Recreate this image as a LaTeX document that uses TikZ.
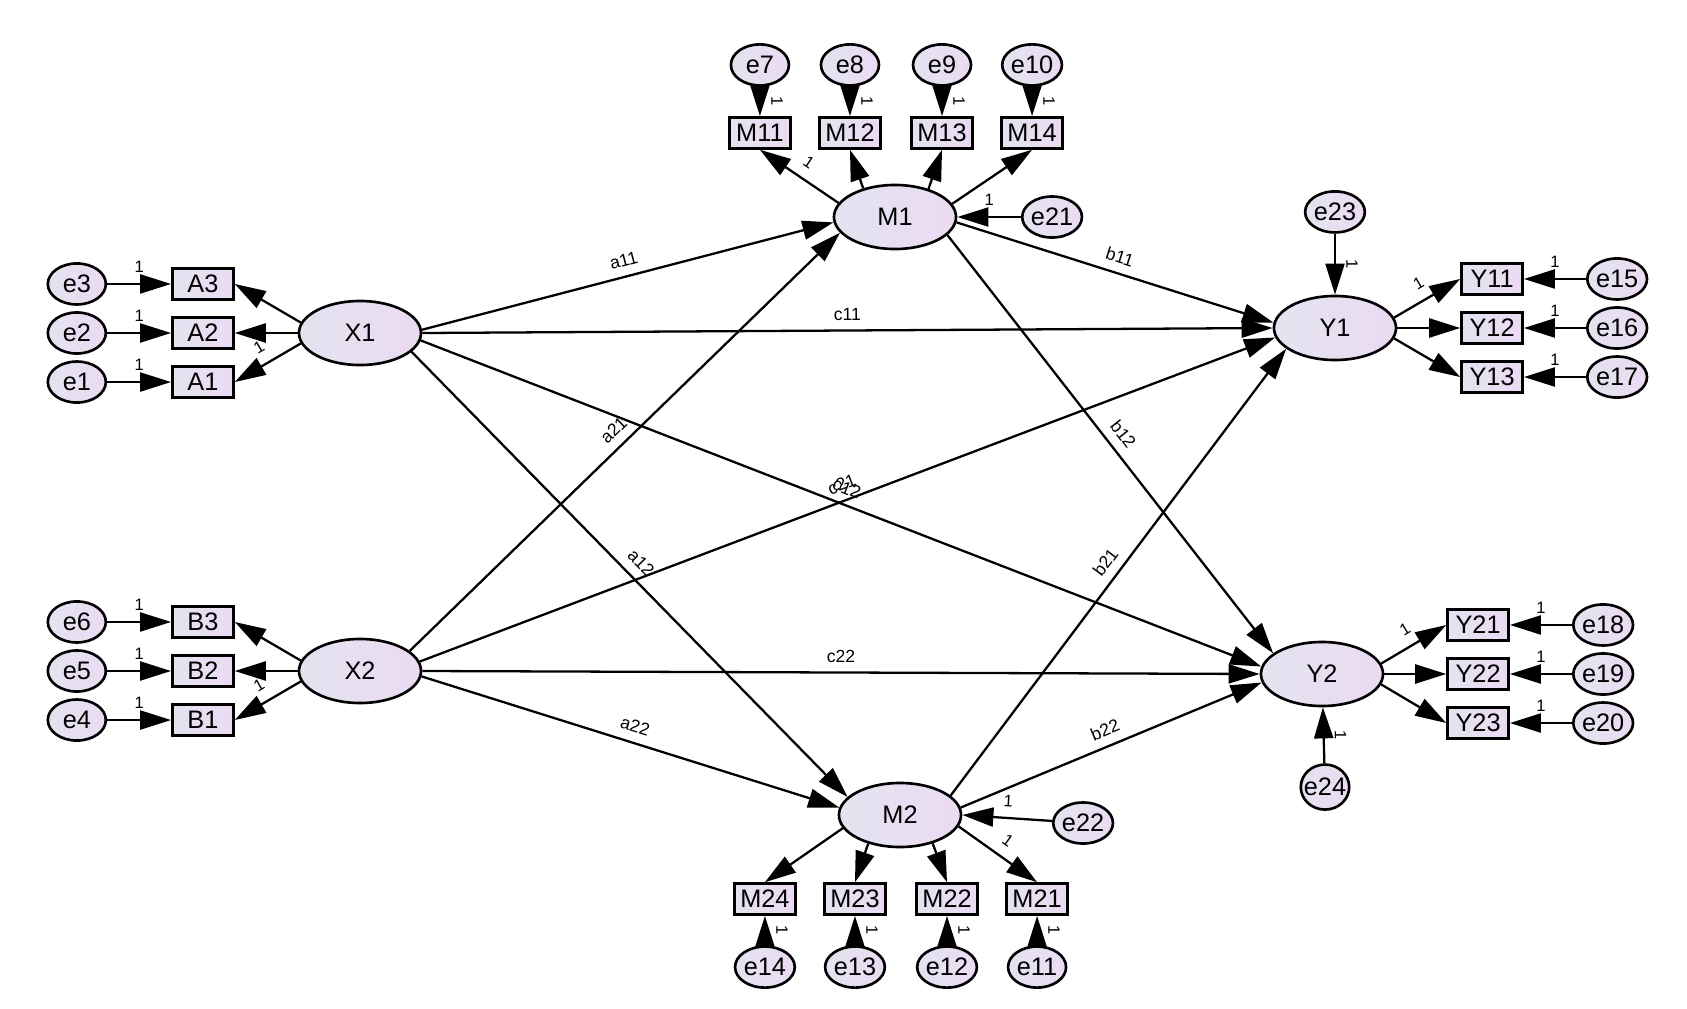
\documentclass[tikz,border=0pt]{standalone}
\usepackage{fontspec}
\setmainfont{Liberation Sans}
\usetikzlibrary{shapes.geometric, arrows.meta}
\definecolor{fillL}{RGB}{226,228,240}
\definecolor{fillR}{RGB}{236,218,242}
\tikzstyle{latent} = [ellipse, draw=black, line width=0.75pt, minimum width=1.22cm, minimum height=0.64cm, inner sep=0pt, left color=fillL, right color=fillR, font=\fontsize{7.2}{8}\selectfont]
\tikzstyle{err} = [ellipse, draw=black, line width=0.75pt, minimum width=0.58cm, minimum height=0.41cm, inner sep=0pt, left color=fillL, right color=fillR, font=\fontsize{7.2}{8}\selectfont]
\tikzstyle{obs} = [rectangle, draw=black, line width=0.75pt, minimum width=0.61cm, minimum height=0.31cm, inner sep=0pt, left color=fillL, right color=fillR, font=\fontsize{7.2}{8}\selectfont]
\tikzstyle{arrow} = [line width=0.65pt, -{Triangle[length=3.1mm, width=1.9mm]}]
\tikzstyle{lbl} = [font=\fontsize{5}{6}\selectfont, inner sep=0.5pt, midway, sloped, above=2pt]
\tikzstyle{one} = [font=\fontsize{4.7}{5}\selectfont, inner sep=0.5pt, midway, sloped, above=2.5pt]
\tikzstyle{onev} = [font=\fontsize{4.7}{5}\selectfont, inner sep=0.5pt, midway, xshift=0.17cm, rotate=-90]

\begin{document}
\begin{tikzpicture}[x=0.01cm, y=-0.01cm, node distance=0.49cm]
\path[use as bounding box, fill=white] (0,0) rectangle (1687,1009);

\node (X1) [latent] at (360,333) {X1};
\node (X2) [latent] at (360,671) {X2};
\node (M1) [latent] at (895,217) {M1};
\node (M2) [latent] at (900,815) {M2};
\node (Y1) [latent] at (1335,328) {Y1};
\node (Y2) [latent] at (1322,674) {Y2};

\node (A2) [obs, left of=X1, xshift=-1.08cm] {A2};
\node (A3) [obs, above of=A2] {A3};
\node (A1) [obs, below of=A2] {A1};
\node (e3) [err, left of=A3, xshift=-0.77cm] {e3};
\node (e2) [err, left of=A2, xshift=-0.77cm] {e2};
\node (e1) [err, left of=A1, xshift=-0.77cm] {e1};

\node (B2) [obs, left of=X2, xshift=-1.08cm] {B2};
\node (B3) [obs, above of=B2] {B3};
\node (B1) [obs, below of=B2] {B1};
\node (e6) [err, left of=B3, xshift=-0.77cm] {e6};
\node (e5) [err, left of=B2, xshift=-0.77cm] {e5};
\node (e4) [err, left of=B1, xshift=-0.77cm] {e4};

\node (M11) [obs, above of=M1, xshift=-1.35cm, yshift=0.35cm] {M11};
\node (M12) [obs, above of=M1, xshift=-0.45cm, yshift=0.35cm] {M12};
\node (M13) [obs, above of=M1, xshift=0.47cm, yshift=0.35cm] {M13};
\node (M14) [obs, above of=M1, xshift=1.37cm, yshift=0.35cm] {M14};
\node (e7) [err, above of=M11, yshift=0.19cm] {e7};
\node (e8) [err, above of=M12, yshift=0.19cm] {e8};
\node (e9) [err, above of=M13, yshift=0.19cm] {e9};
\node (e10) [err, above of=M14, yshift=0.19cm] {e10};
\node (e21) [err, right of=M1, xshift=1.08cm] {e21};

\node (M24) [obs, below of=M2, xshift=-1.35cm, yshift=-0.35cm] {M24};
\node (M23) [obs, below of=M2, xshift=-0.45cm, yshift=-0.35cm] {M23};
\node (M22) [obs, below of=M2, xshift=0.47cm, yshift=-0.35cm] {M22};
\node (M21) [obs, below of=M2, xshift=1.37cm, yshift=-0.35cm] {M21};
\node (e14) [err, below of=M24, yshift=-0.19cm] {e14};
\node (e13) [err, below of=M23, yshift=-0.19cm] {e13};
\node (e12) [err, below of=M22, yshift=-0.19cm] {e12};
\node (e11) [err, below of=M21, yshift=-0.19cm] {e11};
\node (e22) [err, right of=M2, xshift=1.34cm, yshift=-0.08cm] {e22};

\node (Y12) [obs, right of=Y1, xshift=1.08cm] {Y12};
\node (Y11) [obs, above of=Y12] {Y11};
\node (Y13) [obs, below of=Y12] {Y13};
\node (e15) [err, right of=Y11, xshift=0.76cm] {e15};
\node (e16) [err, right of=Y12, xshift=0.76cm] {e16};
\node (e17) [err, right of=Y13, xshift=0.76cm] {e17};
\node (e23) [err, above of=Y1, yshift=0.67cm] {e23};

\node (Y22) [obs, right of=Y2, xshift=1.07cm] {Y22};
\node (Y21) [obs, above of=Y22] {Y21};
\node (Y23) [obs, below of=Y22] {Y23};
\node (e18) [err, right of=Y21, xshift=0.76cm] {e18};
\node (e19) [err, right of=Y22, xshift=0.76cm] {e19};
\node (e20) [err, right of=Y23, xshift=0.76cm] {e20};
\node (e24) [err, below of=Y2, yshift=-0.64cm, xshift=0.03cm, minimum width=0.48cm, minimum height=0.45cm, inner xsep=-0.04cm] {e24};

\draw [arrow] (X1.170) -- (A3.east);
\draw [arrow] (X1) -- (A2);
\draw [arrow] (X1.190) -- node[one] {1} (A1.east);
\draw [arrow] (e3) -- node[one] {1} (A3);
\draw [arrow] (e2) -- node[one] {1} (A2);
\draw [arrow] (e1) -- node[one] {1} (A1);

\draw [arrow] (X2.170) -- (B3.east);
\draw [arrow] (X2) -- (B2);
\draw [arrow] (X2.190) -- node[one] {1} (B1.east);
\draw [arrow] (e6) -- node[one] {1} (B3);
\draw [arrow] (e5) -- node[one] {1} (B2);
\draw [arrow] (e4) -- node[one] {1} (B1);

\draw [arrow] (M1.166) -- node[one] {1} (M11.south);
\draw [arrow] (M1.138) -- (M12.south);
\draw [arrow] (M1.40) -- (M13.south);
\draw [arrow] (M1.13) -- (M14.south);
\draw [arrow] (e7) -- node[onev] {1} (M11);
\draw [arrow] (e8) -- node[onev] {1} (M12);
\draw [arrow] (e9) -- node[onev] {1} (M13);
\draw [arrow] (e10) -- node[onev] {1} (M14);
\draw [arrow] (e21) -- node[one] {1} (M1);

\draw [arrow] (M2.193) -- (M24.north);
\draw [arrow] (M2.222) -- (M23.north);
\draw [arrow] (M2.319) -- (M22.north);
\draw [arrow] (M2.349) -- node[one] {1} (M21.north);
\draw [arrow] (e14) -- node[onev] {1} (M24);
\draw [arrow] (e13) -- node[onev] {1} (M23);
\draw [arrow] (e12) -- node[onev] {1} (M22);
\draw [arrow] (e11) -- node[onev] {1} (M21);
\draw [arrow] (e22) -- node[one] {1} (M2.east);

\draw [arrow] (Y1.10) -- node[one] {1} (Y11.west);
\draw [arrow] (Y1) -- (Y12);
\draw [arrow] (Y1.-10) -- (Y13.west);
\draw [arrow] (e15) -- node[one] {1} (Y11);
\draw [arrow] (e16) -- node[one] {1} (Y12);
\draw [arrow] (e17) -- node[one] {1} (Y13);
\draw [arrow] (e23) -- node[onev] {1} (Y1);

\draw [arrow] (Y2.10) -- node[one] {1} (Y21.west);
\draw [arrow] (Y2) -- (Y22);
\draw [arrow] (Y2.-10) -- (Y23.west);
\draw [arrow] (e18) -- node[one] {1} (Y21);
\draw [arrow] (e19) -- node[one] {1} (Y22);
\draw [arrow] (e20) -- node[one] {1} (Y23);
\draw [arrow] (e24) -- node[onev] {1} (Y2);

\draw [arrow] (X1.3) -- node[lbl] {a11} (M1.185);
\draw [arrow] (X1.0) -- node[lbl] {c11} (Y1.180);
\draw [arrow] (X1.-7) -- node[lbl] {c12} (Y2.173);
\draw [arrow] (X1.-20) -- node[lbl] {a12} (M2.161);
\draw [arrow] (X2.22) -- node[lbl] {a21} (M1.196);
\draw [arrow] (X2.9) -- node[lbl] {c21} (Y1.189);
\draw [arrow] (X2.0) -- node[lbl] {c22} (Y2.180);
\draw [arrow] (X2.-5) -- node[lbl] {a22} (M2.173);
\draw [arrow] (M1.-5) -- node[lbl] {b11} (Y1.175);
\draw [arrow] (M1.-19) -- node[lbl] {b12} (Y2.157);
\draw [arrow] (M2.21) -- node[lbl] {b21} (Y1.203);
\draw [arrow] (M2.7) -- node[lbl] {b22} (Y2.188);

\end{tikzpicture}
\end{document}
